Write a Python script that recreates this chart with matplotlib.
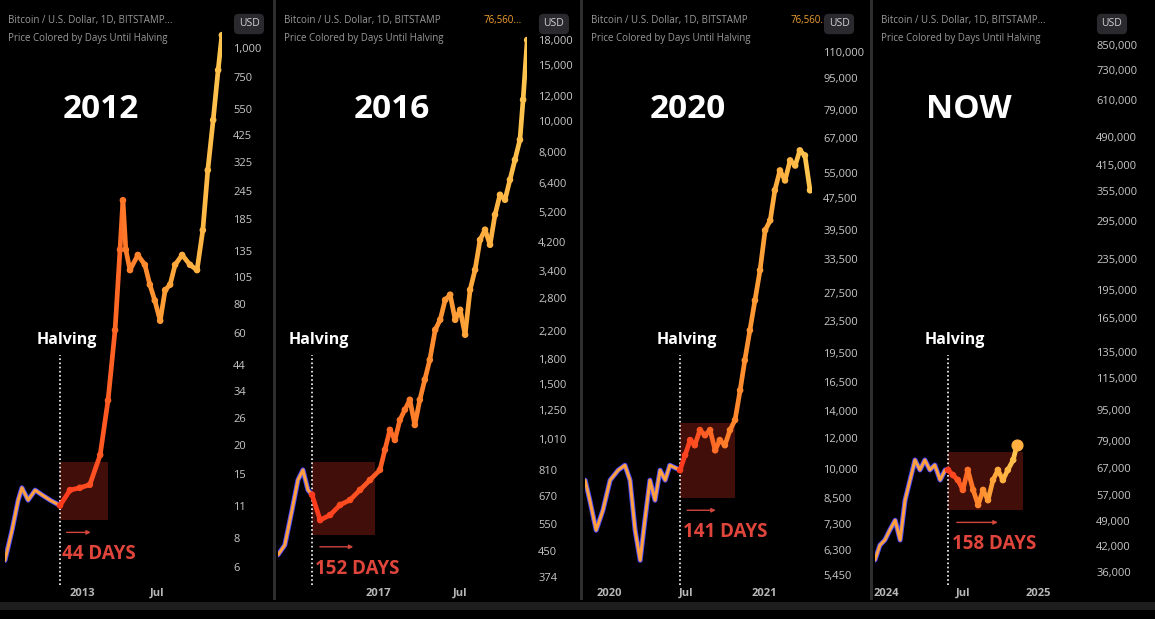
import matplotlib
matplotlib.use('Agg')
import matplotlib.pyplot as plt
from matplotlib.collections import LineCollection
from matplotlib.colors import LinearSegmentedColormap
from matplotlib.patches import Rectangle
import numpy as np

plt.rcParams['font.family'] = ['Open Sans', 'DejaVu Sans']

# ── Data (days relative to halving, price in USD) ──────────────────────
days_2012 = [-133, -116, -101, -92, -77, -60, -43, -24, 0, 24, 48, 72, 97, 116, 133, 145,
             152, 159, 169, 188, 205, 217, 229, 242, 254, 266, 278, 295, 314, 331, 345,
             357, 370, 382, 391]
price_2012 = [6.4, 8.6, 11.6, 13.1, 11.6, 12.8, 12.2, 11.6, 11.0, 12.8, 13.1, 13.5, 18.1, 31,
              62, 137, 223, 137, 112, 130, 118, 97, 83, 68, 92, 97, 118, 130, 118, 112,
              166, 300, 492, 805, 1135]

days_2016 = [-75, -60, -44, -31, -20, -9, 0, 18, 40, 62, 84, 106, 128, 150, 161, 172, 183,
             194, 205, 216, 227, 238, 249, 260, 272, 283, 294, 305, 316, 327, 338, 349,
             360, 371, 382, 393, 404, 415, 426, 437, 448, 459, 466, 475]
price_2016 = [439, 471, 607, 753, 810, 701, 677, 564, 585, 629, 652, 701, 753, 810, 936,
              1081, 1005, 1161, 1250, 1343, 1120, 1343, 1552, 1791, 2225, 2392, 2761, 2866,
              2392, 2570, 2148, 2970, 3430, 4259, 4581, 4109, 5105, 5893, 5686, 6568, 7582,
              8763, 11700, 18000]

days_2020 = [-224, -213, -198, -182, -165, -146, -130, -118, -106, -94, -83, -71, -59, -47,
             -35, -24, 0, 12, 24, 35, 47, 59, 71, 83, 94, 106, 118, 130, 142, 153, 165, 177,
             189, 201, 213, 224, 236, 248, 260, 272, 283, 295, 307]
price_2020 = [9397, 8375, 7050, 7905, 9397, 9954, 10240, 9397, 7050, 5930, 7460, 9397, 8375,
              9954, 9397, 10240, 9954, 10850, 11830, 11490, 12530, 12170, 12530, 11160,
              11830, 11490, 12530, 13280, 15750, 18710, 22230, 26400, 31400, 39500, 41800,
              49700, 55700, 52600, 59000, 57300, 62500, 60700, 49700]

days_now = [-177, -165, -153, -141, -128, -116, -104, -92, -80, -68, -56, -44, -32, -19, -7,
            0, 12, 24, 36, 48, 61, 73, 85, 97, 109, 121, 133, 145, 158, 167]
price_now = [38700, 42300, 43600, 46300, 49100, 43600, 55400, 62500, 70500, 66400, 70500,
             66400, 68400, 62500, 66400, 66400, 64400, 62500, 58900, 66400, 58900, 53800,
             58900, 55400, 62500, 66400, 62500, 66400, 70500, 77100]

titles = ['2012', '2016', '2020', 'NOW']
day_labels = ['44 DAYS', '152 DAYS', '141 DAYS', '158 DAYS']
yticks = [
    [6, 8, 11, 15, 20, 26, 34, 44, 60, 80, 105, 135, 185, 245, 325, 425, 550, 750, 1000],
    [374, 450, 550, 670, 810, 1010, 1250, 1500, 1800, 2200, 2800, 3400, 4200, 5200, 6400,
     8000, 10000, 12000, 15000, 18000],
    [5450, 6300, 7300, 8500, 10000, 12000, 14000, 16500, 19500, 23500, 27500, 33500, 39500,
     47500, 55000, 67000, 79000, 95000, 110000],
    [36000, 42000, 49000, 57000, 67000, 79000, 95000, 115000, 135000, 165000, 195000,
     235000, 295000, 355000, 415000, 490000, 610000, 730000, 850000],
]
xtick_days = [[53, 234], [146, 327], [-166, 15, 199], [-150, 37, 219]]
xtick_labels = [['2013', 'Jul'], ['2017', 'Jul'], ['2020', 'Jul', '2021'], ['2024', 'Jul', '2025']]
box_days = [(0, 116), (0, 139), (0, 130), (0, 182)]
box_prices = [(9.5, 16.9), (507, 858), (8470, 13030), (52100, 73800)]
series = [(days_2012, price_2012), (days_2016, price_2016), (days_2020, price_2020),
          (days_now, price_now)]

# ── Layout (pixels) ───────────────────────────────────────────────────
W, H = 1155, 619
panels = [  # left, right, halving x, px/day, panel left edge, panel right edge
    (5, 222, 60, 0.414, 0, 272),
    (278, 527, 312, 0.453, 276, 579),
    (585, 812, 680, 0.4235, 583, 869),
    (875, 1085, 948, 0.4126, 873, 1155),
]
anchors = [((6, 567), (1000, 48)), ((374, 577), (18000, 40)),
           ((5450, 575), (110000, 52)), ((36000, 572), (850000, 45))]
TOP, BOT = 30, 585

fig = plt.figure(figsize=(W / 100, H / 100), dpi=100, facecolor='black')
# separators
for xs in (274, 581, 871):
    fig.add_artist(Rectangle((xs / W - 1.5 / W, 1 - 600 / H), 3 / W, 600 / H,
                             transform=fig.transFigure, facecolor='#2e2e2e', edgecolor='none'))
fig.add_artist(Rectangle((0, 1 - 610 / H), 1, 8 / H, transform=fig.transFigure,
                         facecolor='#1e1e1e', edgecolor='none'))

post_cmap = LinearSegmentedColormap.from_list('post', ['#ff3b1e', '#ff7a28', '#ffa63a', '#ffc44e'])

for i in range(4):
    left, right, hx, ppd, pl, pr = panels[i]
    ax = fig.add_axes([left / W, 1 - BOT / H, (right - left) / W, (BOT - TOP) / H])
    ax.set_facecolor('none')
    ax.set_yscale('log')
    (v1, y1), (v2, y2) = anchors[i]
    d = (y1 - y2) / (np.log10(v2) - np.log10(v1))
    ax.set_ylim(10 ** (np.log10(v1) - (BOT - y1) / d), 10 ** (np.log10(v2) + (y2 - TOP) / d))
    ax.set_xlim((left - hx) / ppd, (right - hx) / ppd)
    for s in ax.spines.values():
        s.set_visible(False)
    ax.yaxis.tick_right()
    ax.set_yticks(yticks[i])
    ax.set_yticklabels([f'{v:,}' for v in yticks[i]])
    ax.yaxis.set_minor_locator(plt.NullLocator())
    ax.tick_params(axis='y', length=0, pad=8, labelsize=8, labelcolor='#c8c8c8')
    ax.set_xticks(xtick_days[i])
    ax.set_xticklabels(xtick_labels[i])
    ax.tick_params(axis='x', length=0, pad=2, labelsize=8, labelcolor='#b8b8b8')
    for t in ax.get_xticklabels():
        t.set_fontweight('bold')

    x = np.array(series[i][0], float)
    y = np.array(series[i][1], float)
    pre = x <= 0
    ax.plot(x[pre], y[pre], color='#4a4aff', lw=3.6, solid_capstyle='round', zorder=3)
    ax.plot(x[pre], y[pre], color='#ffa040', lw=2.2, solid_capstyle='round', zorder=4)
    post = x >= 0
    xp, yp = x[post], y[post]
    pts = np.column_stack([xp, yp]).reshape(-1, 1, 2)
    segs = np.concatenate([pts[:-1], pts[1:]], axis=1)
    lc = LineCollection(segs, cmap=post_cmap, linewidths=3.4, capstyle='round', zorder=4)
    lc.set_array(np.linspace(0, 1, len(segs)))
    ax.add_collection(lc)
    ax.scatter(xp, yp, c=np.linspace(0, 1, len(xp)), cmap=post_cmap, s=14, zorder=5)
    if i == 3:
        ax.scatter([xp[-1]], [yp[-1]], color='#ffb040', s=60, zorder=6)

    # halving marker
    ylo, yhi = ax.get_ylim()
    ax.plot([0, 0], [ylo, 10 ** (np.log10(v1) + (y1 - 355) / d)], color='white', lw=1.2,
            ls=(0, (1, 1.5)), zorder=2)
    ax.text(7 / ppd, 10 ** (np.log10(v1) + (y1 - 340) / d), 'Halving', color='white',
            fontsize=11.5, fontweight='bold', ha='center', va='center')

    # red window box
    b0, b1 = box_days[i]
    p0, p1 = box_prices[i]
    ax.add_patch(Rectangle((b0, p0), b1 - b0, p1 - p0, facecolor='#7a1a14', alpha=0.55,
                           edgecolor='none', zorder=1))
    ya = p0 * 10 ** (-12 / d)
    ax.annotate('', xy=(b0 + 0.7 * (b1 - b0), ya), xytext=(b0 + 0.08 * (b1 - b0), ya),
                arrowprops=dict(arrowstyle='-|>', color='#d0453c', lw=1, mutation_scale=6))
    ax.text(b0 + 0.05 * (b1 - b0), p0 * 10 ** (-34 / d), day_labels[i], color='#e0453c',
            fontsize=13.5, fontweight='bold', ha='left', va='center')

    # big year title
    fig.text(((pl + right) / 2 - 10) / W, 1 - 110 / H, titles[i], color='white', fontsize=24,
             fontweight='bold', ha='center', va='center')
    # header
    fig.text((pl + 8) / W, 1 - 20 / H, 'Bitcoin / U.S. Dollar, 1D, BITSTAMP...' if i in (0, 3)
             else 'Bitcoin / U.S. Dollar, 1D, BITSTAMP', color='#9a9a9a', fontsize=7,
             ha='left', va='center')
    if i in (1, 2):
        fig.text((pl + 208) / W, 1 - 20 / H, '76,560...', color='#f0a030', fontsize=7,
                 ha='left', va='center')
    fig.text((pl + 8) / W, 1 - 38 / H, 'Price Colored by Days Until Halving', color='#9a9a9a',
             fontsize=7, ha='left', va='center')
    fig.text((right + 27) / W, 1 - 24 / H, 'USD', color='#d0d0d0', fontsize=7.5, ha='center',
             va='center', bbox=dict(boxstyle='round,pad=0.45', facecolor='#2a2a2e',
                                    edgecolor='none'))

fig.savefig('out.png', dpi=100, facecolor=fig.get_facecolor())
